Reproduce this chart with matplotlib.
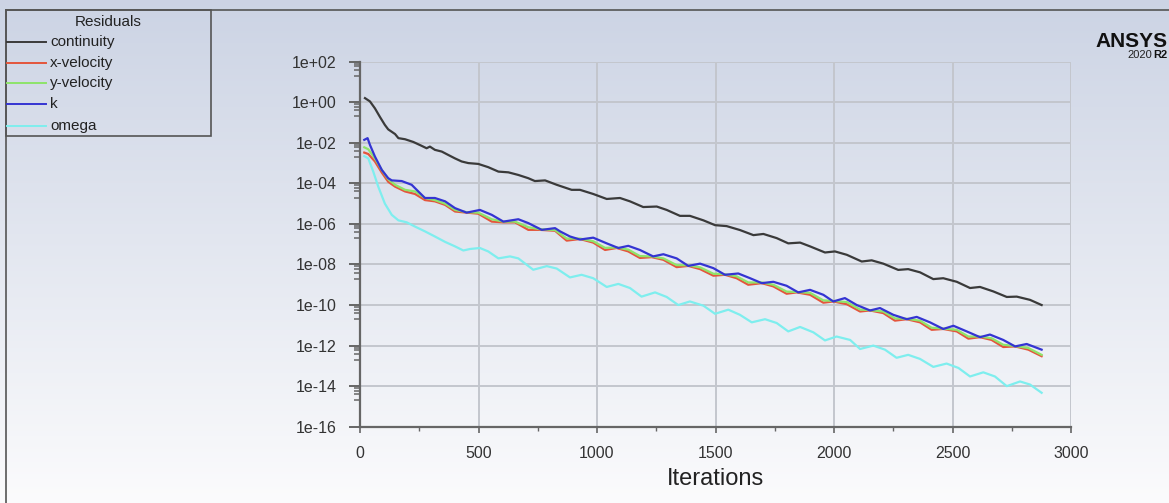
import numpy as np
import matplotlib
matplotlib.use('Agg')
from matplotlib import pyplot as plt
from matplotlib.lines import Line2D
from matplotlib.patches import Rectangle
from matplotlib.ticker import FixedLocator, FuncFormatter

plt.rcParams['font.family'] = ['Liberation Sans', 'DejaVu Sans']

# Residual history, read per equation (iteration, residual).
cont_it = [21, 42, 63, 84, 105, 119, 148, 162, 190, 225, 260, 281, 295, 316, 345, 373, 401, 429,
           457, 499, 541, 584, 626, 668, 710, 738, 781, 830, 893, 928, 984, 1041, 1097, 1139,
           1195, 1252, 1294, 1350, 1392, 1449, 1498, 1547, 1603, 1660, 1702, 1758, 1807, 1857,
           1899, 1962, 2004, 2054, 2117, 2159, 2208, 2271, 2313, 2363, 2419, 2461, 2518, 2574,
           2616, 2672, 2729, 2771, 2827, 2876]
cont_res = [1.6e0, 1.1e0, 5.0e-1, 1.9e-1, 7.6e-2, 4.6e-2, 2.7e-2, 1.7e-2, 1.5e-2, 1.1e-2,
            7.1e-3, 5.4e-3, 6.5e-3, 4.5e-3, 3.7e-3, 2.5e-3, 1.7e-3, 1.2e-3, 1.0e-3, 9.1e-4,
            6.3e-4, 3.8e-4, 3.5e-4, 2.6e-4, 1.8e-4, 1.3e-4, 1.4e-4, 8.5e-5, 4.8e-5, 4.8e-5,
            3.0e-5, 1.7e-5, 1.9e-5, 1.3e-5, 6.8e-6, 7.2e-6, 4.9e-6, 2.5e-6, 2.5e-6, 1.5e-6,
            8.7e-7, 7.8e-7, 5.0e-7, 2.8e-7, 3.2e-7, 2.0e-7, 1.1e-7, 1.2e-7, 7.8e-8, 3.9e-8,
            4.4e-8, 3.0e-8, 1.4e-8, 1.6e-8, 1.1e-8, 5.4e-9, 5.9e-9, 4.1e-9, 1.9e-9, 2.1e-9,
            1.4e-9, 6.9e-10, 7.8e-10, 4.7e-10, 2.5e-10, 2.6e-10, 1.8e-10, 1.0e-10]

vel_it = [18, 35, 63, 92, 119, 148, 190, 232, 274, 316, 359, 401, 450, 499, 556, 605, 654, 710,
          759, 823, 872, 928, 984, 1034, 1083, 1132, 1181, 1231, 1280, 1336, 1385, 1435, 1491,
          1540, 1589, 1638, 1695, 1744, 1800, 1843, 1899, 1955, 1997, 2054, 2110, 2152, 2208,
          2257, 2307, 2363, 2412, 2461, 2518, 2567, 2616, 2665, 2714, 2764, 2820, 2876]
xvel_res = [3.3e-3, 2.8e-3, 1.2e-3, 3.4e-4, 1.2e-4, 6.9e-5, 4.0e-5, 3.0e-5, 1.5e-5, 1.3e-5,
            8.7e-6, 4.1e-6, 3.6e-6, 3.2e-6, 1.3e-6, 1.2e-6, 1.2e-6, 5.1e-7, 5.1e-7, 4.6e-7,
            1.5e-7, 1.8e-7, 1.2e-7, 5.2e-8, 6.5e-8, 4.4e-8, 2.1e-8, 2.3e-8, 1.7e-8, 7.4e-9,
            8.5e-9, 5.9e-9, 2.8e-9, 3.1e-9, 2.1e-9, 1.0e-9, 1.2e-9, 8.3e-10, 3.6e-10, 4.2e-10,
            3.2e-10, 1.3e-10, 1.5e-10, 1.1e-10, 4.8e-11, 5.4e-11, 4.0e-11, 1.7e-11, 2.0e-11,
            1.4e-11, 6.0e-12, 6.6e-12, 5.0e-12, 2.2e-12, 2.6e-12, 1.9e-12, 8.5e-13, 9.1e-13,
            6.3e-13, 3.0e-13]
yvel_res = [6.0e-3, 4.8e-3, 1.7e-3, 4.6e-4, 1.6e-4, 8.5e-5, 4.8e-5, 4.0e-5, 1.9e-5, 1.5e-5,
            1.0e-5, 4.9e-6, 3.8e-6, 3.6e-6, 1.7e-6, 1.3e-6, 1.3e-6, 6.9e-7, 5.5e-7, 5.0e-7,
            1.9e-7, 1.9e-7, 1.4e-7, 6.6e-8, 6.9e-8, 5.4e-8, 2.6e-8, 2.5e-8, 2.0e-8, 9.3e-9,
            9.1e-9, 7.2e-9, 3.5e-9, 3.3e-9, 2.6e-9, 1.3e-9, 1.3e-9, 1.0e-9, 4.6e-10, 4.4e-10,
            4.0e-10, 1.7e-10, 1.6e-10, 1.4e-10, 6.0e-11, 5.6e-11, 4.8e-11, 2.2e-11, 2.1e-11,
            1.7e-11, 7.6e-12, 6.9e-12, 6.0e-12, 2.8e-12, 2.8e-12, 2.3e-12, 1.1e-12, 9.5e-13,
            7.6e-13, 3.5e-13]

k_it = [18, 32, 42, 63, 92, 119, 134, 176, 218, 246, 274, 316, 359, 401, 450, 506, 556, 605,
        668, 710, 767, 823, 844, 886, 928, 984, 1041, 1090, 1132, 1181, 1237, 1280, 1336, 1385,
        1435, 1491, 1540, 1596, 1646, 1695, 1744, 1800, 1849, 1899, 1955, 1997, 2046, 2096,
        2152, 2194, 2250, 2307, 2349, 2405, 2461, 2504, 2560, 2616, 2658, 2714, 2764, 2813, 2876]
k_res = [1.4e-2, 1.7e-2, 7.9e-3, 2.1e-3, 4.6e-4, 1.8e-4, 1.4e-4, 1.3e-4, 8.5e-5, 4.0e-5,
         1.9e-5, 1.9e-5, 1.3e-5, 6.0e-6, 3.6e-6, 4.9e-6, 2.8e-6, 1.3e-6, 1.7e-6, 1.1e-6,
         5.1e-7, 6.2e-7, 4.3e-7, 2.4e-7, 1.7e-7, 2.1e-7, 1.1e-7, 6.5e-8, 8.3e-8, 5.2e-8,
         2.5e-8, 3.2e-8, 2.0e-8, 8.5e-9, 1.1e-8, 6.6e-9, 3.1e-9, 3.6e-9, 2.1e-9, 1.2e-9,
         1.4e-9, 8.9e-10, 4.2e-10, 5.6e-10, 3.2e-10, 1.5e-10, 2.2e-10, 1.0e-10, 5.4e-11,
         7.1e-11, 3.3e-11, 2.0e-11, 2.6e-11, 1.4e-11, 6.6e-12, 9.5e-12, 5.0e-12, 2.6e-12,
         3.5e-12, 1.9e-12, 9.1e-13, 1.2e-12, 6.3e-13]

omega_it = [18, 35, 56, 77, 105, 134, 162, 197, 232, 274, 316, 359, 401, 436, 464, 506, 541,
            584, 633, 668, 731, 788, 830, 886, 935, 984, 1041, 1090, 1139, 1188, 1245, 1294,
            1343, 1392, 1449, 1498, 1554, 1603, 1653, 1709, 1758, 1807, 1857, 1913, 1962, 2011,
            2068, 2110, 2166, 2215, 2264, 2313, 2363, 2419, 2475, 2525, 2574, 2630, 2679, 2729,
            2785, 2827, 2876]
omega_res = [2.2e-3, 1.7e-3, 3.8e-4, 6.9e-5, 1.0e-5, 2.8e-6, 1.5e-6, 1.2e-6, 7.4e-7, 4.3e-7,
             2.4e-7, 1.3e-7, 7.8e-8, 4.9e-8, 5.8e-8, 6.5e-8, 4.4e-8, 2.0e-8, 2.5e-8, 2.0e-8,
             5.5e-9, 8.3e-9, 6.3e-9, 2.3e-9, 3.1e-9, 2.1e-9, 7.8e-10, 1.1e-9, 6.9e-10, 2.6e-10,
             4.2e-10, 2.5e-10, 1.0e-10, 1.5e-10, 9.3e-11, 3.7e-11, 5.9e-11, 3.3e-11, 1.4e-11,
             2.0e-11, 1.3e-11, 5.0e-12, 8.3e-12, 4.5e-12, 1.8e-12, 2.8e-12, 1.9e-12, 6.8e-13,
             1.0e-12, 6.3e-13, 2.5e-13, 3.5e-13, 2.2e-13, 8.9e-14, 1.3e-13, 7.9e-14, 3.0e-14,
             4.8e-14, 3.0e-14, 1.0e-14, 1.7e-14, 1.2e-14, 4.7e-15]

labels = ['continuity', 'x-velocity', 'y-velocity', 'k', 'omega']
colors = ['#3a3a3a', '#e4553c', '#8ee46a', '#3434d2', '#7eeeee']
y_exps = list(range(-16, 3, 2))
x_ticks = [0, 500, 1000, 1500, 2000, 2500, 3000]

W, H = 1169, 503
fig = plt.figure(figsize=(W / 100, H / 100), dpi=100)

# soft vertical background gradient
bg = fig.add_axes([0, 0, 1, 1], zorder=-10)
grad = np.linspace(0, 1, 256).reshape(-1, 1)
top = np.array([0.80, 0.83, 0.895])
bottom = np.array([0.985, 0.985, 0.99])
img = top + (bottom - top) * grad[..., None]
bg.imshow(img, aspect='auto', extent=[0, 1, 0, 1])
bg.set_axis_off()

ax = fig.add_axes([360 / W, 1 - 426.7 / H, 711 / W, 365 / H])
ax.patch.set_alpha(0)

series = [(cont_it, cont_res), (vel_it, xvel_res), (vel_it, yvel_res),
          (k_it, k_res), (omega_it, omega_res)]
for (its, res), lab, c in zip(series, labels, colors):
    ax.plot(its, res, color=c, lw=1.6, label=lab, zorder=3)

ax.set_yscale('log')
ax.set_ylim(1e-16, 1e2)
ax.set_xlim(0, 3000)
ax.yaxis.set_major_locator(FixedLocator([10.0 ** e for e in y_exps]))
ax.yaxis.set_minor_locator(FixedLocator([m * 10.0 ** e for e in y_exps[1:]
                                         for m in (0.2, 0.4, 0.6, 0.8)]))
ax.yaxis.set_major_formatter(FuncFormatter(lambda v, p: f'{v:.0e}'))
ax.yaxis.set_minor_formatter(FuncFormatter(lambda v, p: ''))
ax.set_xticks(x_ticks)
ax.xaxis.set_minor_locator(FixedLocator([250, 750, 1250, 1750, 2250, 2750]))

for s in ['top', 'right']:
    ax.spines[s].set_visible(False)
for s in ['left', 'bottom']:
    ax.spines[s].set_color('#666666')
    ax.spines[s].set_linewidth(1.6)

ax.grid(True, which='major', color='#c3c6cd', lw=1.4, zorder=1)
ax.tick_params(axis='y', which='major', length=8, width=1.4, color='#666666',
               labelsize=11.5, labelcolor='#333333', pad=9)
ax.tick_params(axis='y', which='minor', length=4.5, width=1.1, color='#666666')
ax.tick_params(axis='x', which='major', length=4, width=1.2, color='#666666',
               labelsize=11.5, labelcolor='#333333', pad=10)
ax.tick_params(axis='x', which='minor', length=3, width=1.0, color='#666666')
ax.set_xlabel('Iterations', fontsize=17, color='#222222', labelpad=5)

# outer frame lines
fx, fy = 6 / W, 1 - 10 / H
fig.add_artist(Line2D([fx, 1], [fy, fy], transform=fig.transFigure, color='#555555', lw=1.2))
fig.add_artist(Line2D([fx, fx], [0, fy], transform=fig.transFigure, color='#555555', lw=1.2))

# residuals legend box
bx0, by0 = 6 / W, 1 - 136 / H
fig.add_artist(Rectangle((bx0, by0), (211 - 6) / W, (136 - 10) / H, transform=fig.transFigure,
                         facecolor='none', edgecolor='#555555', lw=1.2))
fig.text(108.5 / W, 1 - 21.5 / H, 'Residuals', ha='center', va='center', fontsize=11,
         color='#222222')
rows = [42.3, 62.7, 83.3, 104.3, 125.7]
for ry, lab, c in zip(rows, labels, colors):
    fig.add_artist(Line2D([7 / W, 46 / W], [1 - ry / H, 1 - ry / H], transform=fig.transFigure,
                          color=c, lw=1.4))
    fig.text(50 / W, 1 - ry / H, lab, ha='left', va='center', fontsize=11, color='#222222')

# product badge
fig.text(1168 / W, 1 - 41.5 / H, 'ANSYS', ha='right', va='center', fontsize=15,
         fontweight='bold', color='#111111')
fig.text(1152 / W, 1 - 55.5 / H, '2020', ha='right', va='center', fontsize=8,
         color='#222222')
fig.text(1168 / W, 1 - 55.5 / H, 'R2', ha='right', va='center', fontsize=8, fontweight='bold',
         color='#111111')

fig.savefig('out.png', dpi=100)
